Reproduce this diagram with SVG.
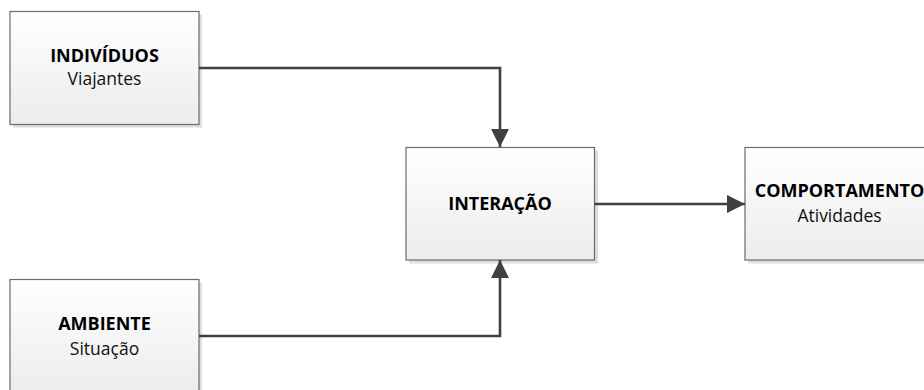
<svg xmlns="http://www.w3.org/2000/svg" width="924" height="390" viewBox="0 0 924 390">
  <defs>
    <linearGradient id="boxFill" x1="0" y1="0" x2="0" y2="1">
      <stop offset="0" stop-color="#ffffff"/>
      <stop offset="1" stop-color="#ececec"/>
    </linearGradient>
    <marker id="arrow" viewBox="0 0 18 18" refX="18" refY="9" markerWidth="18" markerHeight="18" markerUnits="userSpaceOnUse" orient="auto">
      <path d="M0,0 L18,9 L0,18 Z" fill="#404040"/>
    </marker>
  </defs>
  <style>
    .shadow { fill: #dedede; }
    .box { fill: url(#boxFill); stroke: #6b6b6b; stroke-width: 1.2; }
    .title { font-family: "Open Sans", "Noto Sans", sans-serif; font-weight: bold; font-size: 18px; fill: #000; text-anchor: middle; }
    .sub { font-family: "Open Sans", "Noto Sans", sans-serif; font-size: 17.5px; fill: #111; text-anchor: middle; }
    .link { fill: none; stroke: #404040; stroke-width: 2.6; marker-end: url(#arrow); }
  </style>
  <rect width="924" height="390" fill="#ffffff"/>

  <g id="individuos">
    <rect class="shadow" x="13" y="14.5" width="189" height="113"/>
    <rect class="box" x="10" y="11.5" width="189" height="113"/>
    <text class="title" x="104.5" y="62">INDIVÍDUOS</text>
    <text class="sub" x="104.5" y="85">Viajantes</text>
  </g>

  <g id="ambiente">
    <rect class="shadow" x="13" y="282.5" width="189" height="113"/>
    <rect class="box" x="10" y="279.5" width="189" height="113"/>
    <text class="title" x="104.5" y="330">AMBIENTE</text>
    <text class="sub" x="104.5" y="355">Situação</text>
  </g>

  <g id="interacao">
    <rect class="shadow" x="409" y="150.5" width="189" height="113"/>
    <rect class="box" x="406" y="147.5" width="188.5" height="112.5"/>
    <text class="title" x="500" y="210">INTERAÇÃO</text>
  </g>

  <g id="comportamento">
    <rect class="shadow" x="748" y="150.5" width="189" height="113"/>
    <rect class="box" x="745" y="147.5" width="189" height="112.5"/>
    <text class="title" x="839.5" y="197">COMPORTAMENTO</text>
    <text class="sub" x="839.5" y="222">Atividades</text>
  </g>

  <g id="connectors">
    <path class="link" d="M199,68 H500 V147"/>
    <path class="link" d="M199,336 H500 V260"/>
    <path class="link" d="M594.5,204 H745"/>
  </g>
</svg>
